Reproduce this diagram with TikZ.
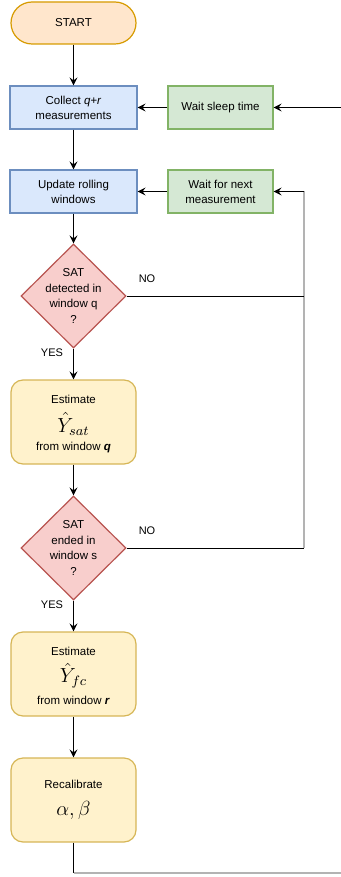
\documentclass[tikz,border=0pt]{standalone}
\usepackage[no-math]{fontspec}
\setmainfont{Liberation Sans}
\usepackage{amsmath}
\usepackage{graphicx}
\usetikzlibrary{arrows.meta,shapes.geometric}
\definecolor{startfill}{HTML}{FFE6CC}
\definecolor{startline}{HTML}{D79B00}
\definecolor{bluefill}{HTML}{DAE8FC}
\definecolor{blueline}{HTML}{6C8EBF}
\definecolor{greenfill}{HTML}{D5E8D4}
\definecolor{greenline}{HTML}{82B366}
\definecolor{redfill}{HTML}{F8CECC}
\definecolor{redline}{HTML}{B85450}
\definecolor{yelfill}{HTML}{FFF2CC}
\definecolor{yelline}{HTML}{D6B656}
\definecolor{loopgray}{HTML}{B3B3B3}
\newcommand{\mybigmath}[1]{\scalebox{1.7}{$#1$}}
\begin{document}
\begin{tikzpicture}[x=1pt,y=-1pt,
  font=\fontsize{11.5}{15}\selectfont,
  basebox/.style={draw, line width=1.2pt, align=center, inner sep=0pt},
  bluebox/.style={basebox, fill=bluefill, draw=blueline, minimum width=127pt, minimum height=43pt},
  greenbox/.style={basebox, fill=greenfill, draw=greenline, minimum width=105pt, minimum height=43pt},
  yelbox/.style={basebox, fill=yelfill, draw=yelline, rounded corners=12pt, minimum width=125pt, minimum height=84pt},
  decision/.style={diamond, draw=redline, fill=redfill, line width=1.2pt, minimum width=105pt, minimum height=104pt, inner sep=0pt, aspect=1},
  inner/.style={inner sep=0pt},
  arr/.style={-{Stealth[length=8pt,width=8pt,inset=3pt]}, line width=0.9pt},
  plain/.style={line width=0.9pt},
  grayline/.style={line width=1.3pt, draw=loopgray},
  lbl/.style={font=\fontsize{11}{13}\selectfont}
]
\useasboundingbox (0,0) rectangle (340,877);

\node[basebox, fill=startfill, draw=startline, rounded corners=21pt, minimum width=125pt, minimum height=42pt] (start) at (73.5,23) {START};
\node[bluebox] (collect) at (73.5,107.5) {Collect \textit{q+r}\\measurements};
\node[greenbox] (sleep) at (220.5,107.5) {Wait sleep time};
\node[bluebox] (update) at (73.5,191.5) {Update rolling\\windows};
\node[greenbox] (waitnext) at (220.5,191.5) {Wait for next\\measurement};
\node[decision] (d1) at (73.5,296) {};
\node[inner, align=center, font=\fontsize{11.5}{15.5}\selectfont] (d1t) at (73.5,296) {SAT\\detected in\\window q\\?};
\node[yelbox] (est1) at (73.5,422) {};
\node[inner] (est1a) at (73.5,399.5) {Estimate};
\node[inner] (est1b) at (73.5,424) {\mybigmath{\hat{Y}_{sat}}};
\node[inner] (est1c) at (73.5,448) {from window \textbf{\textit{q}}};
\node[decision] (d2) at (73.5,548) {};
\node[inner, align=center, font=\fontsize{11.5}{15.5}\selectfont] (d2t) at (73.5,548) {SAT\\ended in\\window s\\?};
\node[yelbox] (est2) at (73.5,674) {};
\node[inner] (est2a) at (73.5,651.5) {Estimate};
\node[inner] (est2b) at (73.5,676) {\mybigmath{\hat{Y}_{fc}}};
\node[inner] (est2c) at (73.5,700) {from window \textbf{\textit{r}}};
\node[yelbox] (recal) at (73.5,800) {};
\node[inner] (recala) at (73.5,784) {Recalibrate};
\node[inner] (recalb) at (73.5,810) {\mybigmath{\alpha,\beta}};

\node[lbl] (no1) at (147,279) {NO};
\node[lbl] (yes1) at (52,353) {YES};
\node[lbl] (no2) at (147,531) {NO};
\node[lbl] (yes2) at (52,605) {YES};

\coordinate (sleepin) at (342,107.5);
\coordinate (waitin) at (304,191.5);
\coordinate (no1end) at (304,296);
\coordinate (no2end) at (304,548);
\coordinate (botl) at (73.5,873);
\coordinate (botr) at (342,873);

\draw[arr] (start) -- (collect);
\draw[arr] (collect) -- (update);
\draw[arr] (sleep) -- (collect);
\draw[arr] (sleepin) -- (sleep);
\draw[arr] (waitnext) -- (update);
\draw[arr] (update) -- (d1);
\draw[arr] (d1) -- (est1);
\draw[arr] (est1) -- (d2);
\draw[arr] (d2) -- (est2);
\draw[arr] (est2) -- (recal);

\draw[grayline] (no2end) -- (waitin);
\draw[plain] (d1.east) -- (no1end);
\draw[plain] (d2.east) -- (no2end);
\draw[arr] (waitin) -- (waitnext);

\draw[plain] (recal.south) -- (botl);
\draw[grayline] (botl) -- (botr) -- (sleepin);
\end{tikzpicture}
\end{document}
